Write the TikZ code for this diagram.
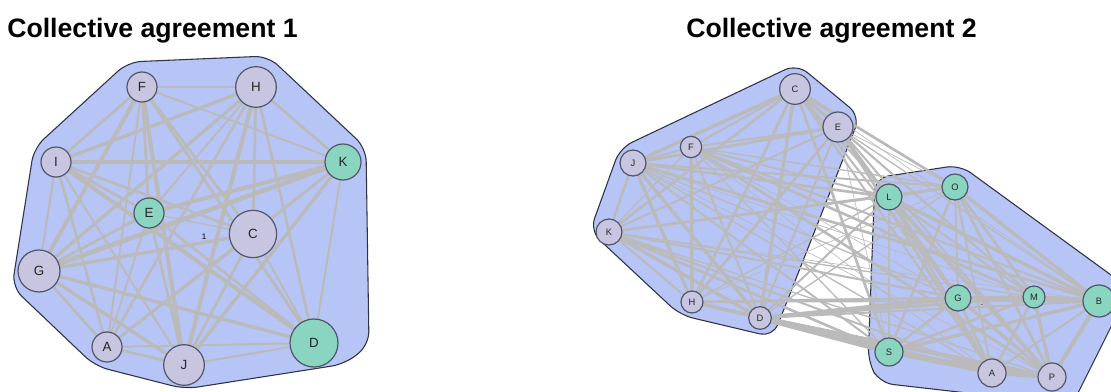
\documentclass[tikz,border=0pt]{standalone}
\usepackage{fontspec}
\setmainfont{Liberation Sans}
\definecolor{hullc}{RGB}{183,196,246}
\definecolor{hulld}{RGB}{45,50,70}
\definecolor{purp}{RGB}{200,197,224}
\definecolor{grn}{RGB}{138,213,192}
\definecolor{ndd}{RGB}{80,86,105}
\definecolor{edc}{RGB}{186,186,186}
\pgfdeclarelayer{hullL}
\pgfdeclarelayer{edgeL}
\pgfsetlayers{hullL,edgeL,main}
\begin{document}
\begin{tikzpicture}[x=0.75pt,y=-0.75pt,
  hull/.style={fill=hullc, draw=hulld, line width=0.8pt, rounded corners=10pt},
  nd/.style={circle, draw=ndd, line width=0.9pt, inner sep=0pt, text=black!85},
  bign/.style={font=\fontsize{10}{10}\selectfont},
  smalln/.style={font=\fontsize{7}{7}\selectfont},
  pn/.style={nd, fill=purp},
  gn/.style={nd, fill=grn},
  ed/.style={draw=edc, line cap=round},
  ttl/.style={anchor=base west, inner sep=0pt, font=\fontsize{20}{20}\selectfont\bfseries}]
\useasboundingbox (0,0) rectangle (1111,392);
\clip (0,0) rectangle (1111,392);

% titles
\node[ttl] (t1) at (7,38) {Collective agreement 1};
\node[ttl] (t2) at (686,38) {Collective agreement 2};

% ---------- left diagram ----------
\begin{scope}[bign]
\node[pn, minimum size=22.5pt] (F) at (142,87) {F};
\node[pn, minimum size=30.5pt] (H) at (256,87) {H};
\node[pn, minimum size=22.5pt] (I) at (56,162) {I};
\node[gn, minimum size=27pt]   (K) at (343,162) {K};
\node[gn, minimum size=22.5pt] (E) at (149,213) {E};
\node[pn, minimum size=35.5pt] (C) at (253,234) {C};
\node[pn, minimum size=31.5pt] (G) at (39,271) {G};
\node[pn, minimum size=22.5pt] (A) at (107,347) {A};
\node[pn, minimum size=30.5pt] (J) at (184,365) {J};
\node[gn, minimum size=36pt]   (D) at (314,343) {D};
\end{scope}
\node[font=\fontsize{6}{6}\selectfont, inner sep=0pt] (one) at (204,237) {1};

\begin{pgfonlayer}{hullL}
\draw[hull] (128,62) -- (268,56) -- (366,148) -- (369,345) -- (345,364) -- (185,389) -- (95,366) -- (12,287) -- (34,148) -- cycle;
\end{pgfonlayer}

\begin{pgfonlayer}{edgeL}
\foreach \a/\b/\w in {F/H/1.5,F/I/2,F/K/1.5,F/E/2,F/C/2,F/G/3,F/A/1.5,F/J/3,F/D/2.2,
  H/I/2.5,H/K/2,H/E/1.5,H/C/2,H/G/2.5,H/A/2,H/J/3,H/D/2,
  I/K/2.5,I/E/2,I/C/2,I/G/1.5,I/A/2,I/J/1.5,I/D/3,
  K/E/3,K/C/1.5,K/G/3.5,K/A/2,K/J/2.5,K/D/1.5,
  E/C/1,E/G/2,E/A/1.5,E/J/2,E/D/2,
  C/G/2.5,C/A/2,C/J/2,C/D/1.5,
  G/A/2,G/J/2.5,G/D/2.5,
  A/J/2,A/D/1.5,
  J/D/1.5}
  {\draw[ed, line width=\w pt] (\a) -- (\b);}
\end{pgfonlayer}

% ---------- right diagram ----------
\begin{scope}[smalln]
\node[pn, minimum size=23pt]   (rC) at (795,89) {C};
\node[pn, minimum size=22.5pt] (rE) at (838,127) {E};
\node[pn, minimum size=16pt]   (rF) at (691,147) {F};
\node[pn, minimum size=19.5pt] (rJ) at (633,163) {J};
\node[pn, minimum size=19.5pt] (rK) at (609,232) {K};
\node[pn, minimum size=16.5pt] (rH) at (692,302) {H};
\node[pn, minimum size=17pt]   (rD) at (760,318) {D};
\node[gn, minimum size=19.5pt] (rL) at (889,197) {L};
\node[gn, minimum size=19.5pt] (rO) at (955,187) {O};
\node[gn, minimum size=19.5pt] (rG) at (958,298) {G};
\node[gn, minimum size=16.5pt] (rM) at (1034,297) {M};
\node[gn, minimum size=24pt]   (rB) at (1099,301) {B};
\node[gn, minimum size=21pt]   (rS) at (889,352) {S};
\node[pn, minimum size=21pt]   (rA) at (992,373) {A};
\node[pn, minimum size=21pt]   (rP) at (1052,377) {P};
\end{scope}
\node[font=\fontsize{5}{5}\selectfont, inner sep=0pt] (dash) at (982,305) {-};

\begin{pgfonlayer}{hullL}
\draw[hull] (797,64) -- (860,116) -- (773,337) -- (680,315) -- (590,231) -- (620,148) -- cycle;
\draw[hull] (875,178) -- (960,165) -- (1122,283) -- (1122,305) -- (1072,405) -- (880,383) -- (868,362) -- cycle;
\end{pgfonlayer}

\begin{pgfonlayer}{edgeL}
% left cluster
\foreach \a/\b/\w in {rC/rE/2.5,rC/rF/1.5,rC/rJ/2.5,rC/rK/2,rC/rH/2,rC/rD/2.5,
  rE/rF/1.5,rE/rJ/2,rE/rK/1.5,rE/rH/2,rE/rD/1.5,
  rF/rJ/1.5,rF/rK/1,rF/rH/2.5,rF/rD/1.5,
  rJ/rK/2,rJ/rH/2.5,rJ/rD/2.5,
  rK/rH/1.5,rK/rD/2.5,
  rH/rD/2.5}
  {\draw[ed, line width=\w pt] (\a) -- (\b);}
% right cluster
\foreach \a/\b/\w in {rL/rO/1.5,rL/rG/2,rL/rM/1.5,rL/rB/2.5,rL/rS/2,rL/rA/2,rL/rP/2.5,
  rO/rG/1.5,rO/rM/2,rO/rB/2.5,rO/rS/2,rO/rA/1.5,rO/rP/2,
  rG/rM/2.5,rG/rB/2,rG/rS/2,rG/rA/2,rG/rP/2.5,
  rM/rB/3,rM/rS/2,rM/rA/2,rM/rP/2.5,
  rB/rS/2.5,rB/rA/1.5,rB/rP/3,
  rS/rA/3,rS/rP/2.5,
  rA/rP/3}
  {\draw[ed, line width=\w pt] (\a) -- (\b);}
% between clusters
\foreach \a/\i in {rC/1,rE/2,rF/3,rJ/4,rK/5,rH/6,rD/7}
  \foreach \b/\j in {rL/1,rO/2,rG/3,rM/4,rB/5,rS/6,rA/7,rP/8}
  {\pgfmathsetmacro\w{0.5+mod(\i*5+\j*3,4)*0.5}
   \draw[ed, line width=\w pt] (\a) -- (\b);}
\foreach \b/\w in {rS/3.5,rA/3,rP/3,rG/3}
  {\draw[ed, line width=\w pt] (rD) -- (\b);}
\end{pgfonlayer}
\end{tikzpicture}
\end{document}
